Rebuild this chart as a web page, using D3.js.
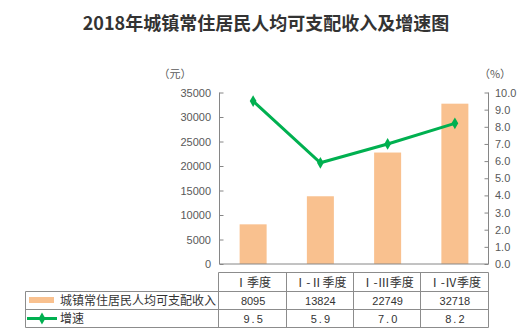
<!DOCTYPE html>
<html><head><meta charset="utf-8">
<script src="https://cdn.jsdelivr.net/npm/d3@7/dist/d3.min.js"></script>
<style>body{margin:0;background:#fff}svg{display:block}</style>
</head><body>
<script>
const categories = ["Ⅰ季度", "Ⅰ-Ⅱ季度", "Ⅰ-Ⅲ季度", "Ⅰ-Ⅳ季度"];
const incomeValues = [8095, 13824, 22749, 32718];
const incomeLabels = ["8095", "13824", "22749", "32718"];
const growthValues = [9.5, 5.9, 7.0, 8.2];
const growthLabels = ["9.5", "5.9", "7.0", "8.2"];
const leftTicks = [0, 5000, 10000, 15000, 20000, 25000, 30000, 35000];
const rightTicks = [0, 1, 2, 3, 4, 5, 6, 7, 8, 9, 10];
const seriesNames = ["城镇常住居民人均可支配收入", "增速"];
const title = "2018年城镇常住居民人均可支配收入及增速图";

const W = 525, H = 336;
const barColor = "#F9C18F", lineColor = "#00B050", axisColor = "#868686", textColor = "#595959";
const cjk = "'Noto Sans CJK SC', 'Liberation Sans', sans-serif";
const num = "'Liberation Sans', 'DejaVu Sans', sans-serif";

const svg = d3.select("body").append("svg").attr("width", W).attr("height", H);

const x0 = 219.5, x1 = 488.5, yTop = 92.5, yBot = 264;
const x = d3.scaleBand().domain(categories).range([x0, x1]).paddingInner(0).paddingOuter(0);
const yL = d3.scaleLinear().domain([0, 35000]).range([yBot, yTop]);
const yR = d3.scaleLinear().domain([0, 10]).range([yBot, yTop]);

svg.append("text").attr("x", 266).attr("y", 30).attr("text-anchor", "middle")
  .attr("font-family", cjk).attr("font-weight", "bold").attr("font-size", 18)
  .attr("fill", "#333").text(title);

// bars
const bw = 27;
svg.selectAll("rect.bar").data(incomeValues).join("rect").attr("class", "bar")
  .attr("x", (d, i) => x(categories[i]) + x.bandwidth() / 2 - bw / 2)
  .attr("width", bw)
  .attr("y", d => yL(d)).attr("height", d => yBot - yL(d))
  .attr("fill", barColor);

// axes
const axL = svg.append("g").attr("transform", `translate(${x0},0)`)
  .call(d3.axisRight(yL).tickValues(leftTicks).tickSize(4).tickFormat(""));
axL.select(".domain").remove();
axL.selectAll("line").attr("stroke", axisColor);
svg.append("line").attr("x1", x0).attr("x2", x0).attr("y1", yTop).attr("y2", yBot).attr("stroke", axisColor);
svg.selectAll("text.lt").data(leftTicks).join("text").attr("class", "lt")
  .attr("x", 211).attr("y", d => yL(d) + 4).attr("text-anchor", "end")
  .attr("font-family", num).attr("font-size", 11).attr("fill", textColor).text(d => d);

const axR = svg.append("g").attr("transform", `translate(${x1},0)`)
  .call(d3.axisLeft(yR).tickValues(rightTicks).tickSize(4).tickFormat(""));
axR.select(".domain").remove();
axR.selectAll("line").attr("stroke", axisColor);
svg.append("line").attr("x1", x1).attr("x2", x1).attr("y1", yTop).attr("y2", yBot).attr("stroke", axisColor);
svg.selectAll("text.rt").data(rightTicks).join("text").attr("class", "rt")
  .attr("x", 495).attr("y", d => yR(d) + 4).attr("text-anchor", "start")
  .attr("font-family", num).attr("font-size", 11).attr("fill", textColor).text(d => d.toFixed(1));

svg.append("line").attr("x1", x0).attr("x2", x1).attr("y1", yBot).attr("y2", yBot).attr("stroke", axisColor);

svg.append("text").attr("x", 175).attr("y", 78).attr("text-anchor", "middle")
  .attr("font-family", cjk).attr("font-size", 11).attr("fill", textColor).text("（元）");
svg.append("text").attr("x", 495).attr("y", 78).attr("text-anchor", "middle")
  .attr("font-family", cjk).attr("font-size", 11).attr("fill", textColor).text("（%）");

// line
const cx = (d, i) => x(categories[i]) + x.bandwidth() / 2;
svg.append("path").datum(growthValues)
  .attr("d", d3.line().x(cx).y(d => yR(d)))
  .attr("fill", "none").attr("stroke", lineColor).attr("stroke-width", 3);
const diamond = d3.symbol().type(d3.symbolDiamond).size(40);
svg.selectAll("path.mk").data(growthValues).join("path").attr("class", "mk")
  .attr("transform", (d, i) => `translate(${cx(d, i)},${yR(d)})`)
  .attr("d", diamond).attr("fill", lineColor);

// table
const tTop = 272.5, r1 = 291.5, r2 = 309.5, tBot = 327.5, tLeft = 25.5;
const g = svg.append("g").attr("stroke", "#8c8c8c").attr("stroke-width", 1);
g.append("line").attr("x1", x0 - 1).attr("x2", x1).attr("y1", tTop).attr("y2", tTop);
g.append("line").attr("x1", tLeft).attr("x2", x1).attr("y1", r1).attr("y2", r1);
g.append("line").attr("x1", tLeft).attr("x2", x1).attr("y1", r2).attr("y2", r2);
g.append("line").attr("x1", tLeft).attr("x2", x1).attr("y1", tBot).attr("y2", tBot);
g.append("line").attr("x1", tLeft).attr("x2", tLeft).attr("y1", r1).attr("y2", tBot);
const colEdges = [x0 - 1].concat(categories.map(c => x(c) + x.bandwidth()));
g.selectAll("line.v").data(colEdges).join("line").attr("class", "v")
  .attr("x1", d => Math.round(d) - 0.5).attr("x2", d => Math.round(d) - 0.5)
  .attr("y1", tTop).attr("y2", tBot);

const txt = (sel) => sel.attr("font-family", cjk).attr("font-size", 12).attr("fill", "#333").attr("text-anchor", "middle");
svg.selectAll("text.hd").data(categories).join("text").attr("class", "hd").call(txt)
  .attr("x", (d, i) => cx(d, i)).attr("y", 287).text(d => d);
svg.selectAll("text.v1").data(incomeLabels).join("text").attr("class", "v1").call(txt)
  .attr("font-family", num).attr("font-size", 11)
  .attr("x", (d, i) => cx(d, i)).attr("y", 305).text(d => d);
svg.selectAll("text.v2").data(growthLabels).join("text").attr("class", "v2").call(txt)
  .attr("font-family", num).attr("font-size", 11).attr("letter-spacing", 2)
  .attr("x", (d, i) => cx(d, i) + 1).attr("y", 323).text(d => d);

// legend in table
svg.append("rect").attr("x", 29).attr("y", 297).attr("width", 25).attr("height", 6).attr("fill", barColor);
svg.append("line").attr("x1", 27).attr("x2", 57).attr("y1", 318.5).attr("y2", 318.5).attr("stroke", lineColor).attr("stroke-width", 3);
svg.append("path").attr("transform", "translate(42,318.5)").attr("d", diamond).attr("fill", lineColor);
svg.append("text").attr("x", 60).attr("y", 304.5).attr("font-family", cjk).attr("font-size", 12).attr("fill", "#333").text(seriesNames[0]);
svg.append("text").attr("x", 60).attr("y", 322.5).attr("font-family", cjk).attr("font-size", 12).attr("fill", "#333").text(seriesNames[1]);
</script>
</body></html>
